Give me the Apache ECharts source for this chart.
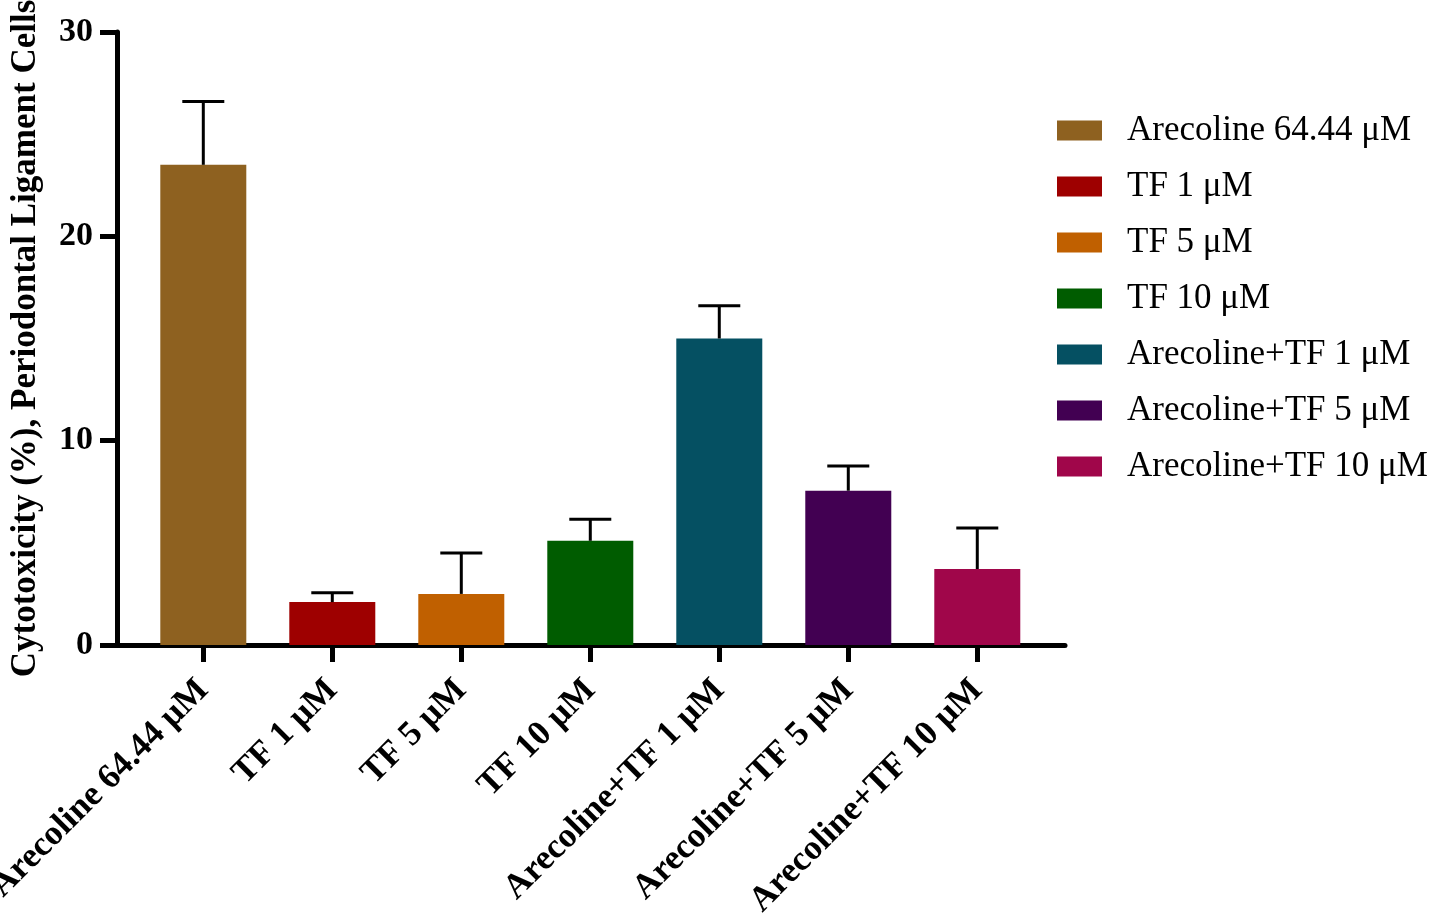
<!DOCTYPE html>
<html lang="en">
<head>
  <meta charset="utf-8">
  <title>Cytotoxicity, Periodontal Ligament Cells</title>
  <script src="https://cdn.jsdelivr.net/npm/echarts@6/dist/echarts.min.js"></script>
  <style>
    html, body { margin: 0; padding: 0; background: #fff; }
    #main { width: 1433px; height: 918px; }
  </style>
</head>
<body>
  <div id="main"></div>
  <script type="text/javascript">
// data
var groups = ['Arecoline 64.44 μM', 'TF 1 μM', 'TF 5 μM', 'TF 10 μM',
              'Arecoline+TF 1 μM', 'Arecoline+TF 5 μM', 'Arecoline+TF 10 μM'];
var means  = [23.5, 2.1, 2.5, 5.1, 15.0, 7.55, 3.72];
var upper  = [26.6, 2.56, 4.5, 6.15, 16.6, 8.76, 5.72];   // mean + error
var colors = ['#8E6120', '#9E0000', '#C06000', '#005C00', '#055062', '#420052', '#A0064A'];
var yTicks = [0, 10, 20, 30];

var font = 'Liberation Serif';
var positions = groups.map(function (g, i) { return i; });

var series = groups.map(function (g, i) {
  return {
    name: g,
    type: 'bar',
    stack: 'one',
    barWidth: 86,
    itemStyle: { color: colors[i] },
    data: [[i, means[i]]]
  };
});

// error bars (upper only, the lower half is hidden by the bar)
series.push({
  type: 'custom',
  name: 'err',
  z: 5,
  data: groups.map(function (g, i) { return [i, means[i], upper[i]]; }),
  encode: { x: 0, y: [1, 2] },
  renderItem: function (params, api) {
    var low = api.coord([api.value(0), api.value(1)]);
    var high = api.coord([api.value(0), api.value(2)]);
    var half = 21;
    var style = { stroke: '#000', lineWidth: 3 };
    return {
      type: 'group',
      children: [
        { type: 'line', shape: { x1: low[0], y1: low[1], x2: high[0], y2: high[1] }, style: style },
        { type: 'line', shape: { x1: high[0] - half, y1: high[1], x2: high[0] + half, y2: high[1] }, style: style }
      ]
    };
  }
});

var chart = echarts.init(document.getElementById('main'));
chart.setOption({
  backgroundColor: '#fff',
  animation: false,
  textStyle: { fontFamily: font },
  grid: { left: 117, top: 32, right: 368, bottom: 273, containLabel: false, outerBoundsMode: 'none' },
  legend: {
    orient: 'vertical',
    left: 1057,
    top: 113,
    padding: 0,
    icon: 'rect',
    itemWidth: 45,
    itemHeight: 20,
    itemGap: 21,
    data: groups,
    textStyle: { fontFamily: font, fontSize: 35, color: '#000', lineHeight: 30, padding: [0, 0, 0, 20] }
  },
  xAxis: {
    type: 'value',
    min: -0.669,
    max: 6.68,
    splitLine: { show: false },
    axisLine: { show: true, lineStyle: { color: '#000', width: 5 } },
    axisTick: { show: true, customValues: positions, length: 17, lineStyle: { color: '#000', width: 5 } },
    axisLabel: {
      customValues: positions,
      rotate: 45,
      margin: 40,
      fontFamily: font,
      fontSize: 35,
      fontWeight: 'bold',
      color: '#000',
      formatter: function (v) { return groups[Math.round(v)]; }
    }
  },
  yAxis: {
    type: 'value',
    min: yTicks[0],
    max: yTicks[yTicks.length - 1],
    interval: 10,
    name: 'Cytotoxicity (%), Periodontal Ligament Cells',
    nameLocation: 'middle',
    nameGap: 74,
    nameTextStyle: { fontFamily: font, fontSize: 35, fontWeight: 'bold', color: '#000' },
    splitLine: { show: false },
    axisLine: { show: true, onZero: false, lineStyle: { color: '#000', width: 5 } },
    axisTick: { show: true, length: 17, lineStyle: { color: '#000', width: 5 } },
    axisLabel: { margin: 24, fontFamily: font, fontSize: 34, fontWeight: 'bold', color: '#000' }
  },
  series: series
});
  </script>
</body>
</html>
